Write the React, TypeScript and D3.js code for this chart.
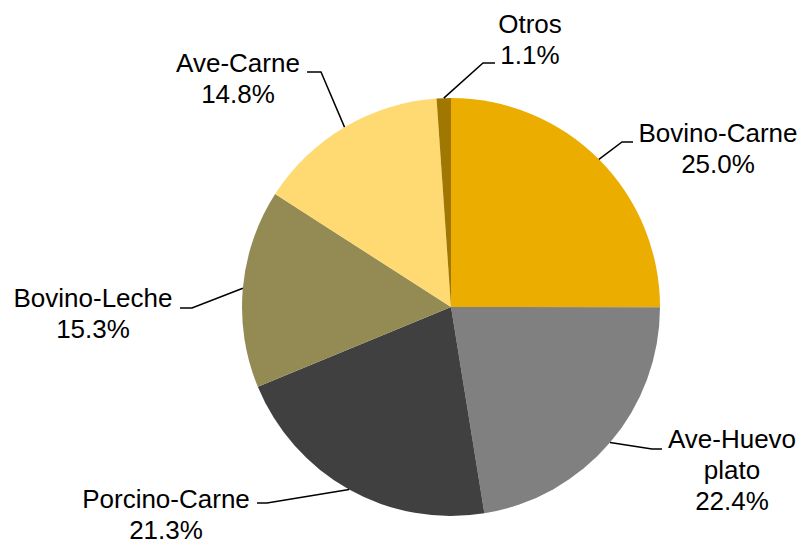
import { useEffect, useRef } from "react";
import * as d3 from "d3";

const categories = ["Bovino-Carne", "Ave-Huevo plato", "Porcino-Carne", "Bovino-Leche", "Ave-Carne", "Otros"];
const shares = [25.0, 22.4, 21.3, 15.3, 14.8, 1.1];
const labelLines = [["Bovino-Carne"], ["Ave-Huevo", "plato"], ["Porcino-Carne"], ["Bovino-Leche"], ["Ave-Carne"], ["Otros"]];
const colors = ["#EBAD00", "#808080", "#404040", "#948A54", "#FFD971", "#A07700"];

// label placement: elbow, line end, text center and first baseline
const labelLayout = [
  { elbow: [622, 142], end: [633, 142], tx: 718, ty: 142 },
  { elbow: [652, 449], end: [662, 449], tx: 732, ty: 448 },
  { elbow: [267, 503], end: [257, 503], tx: 166, ty: 508 },
  { elbow: [192, 308], end: [180, 308], tx: 93, ty: 307 },
  { elbow: [321, 72], end: [307, 72], tx: 238, ty: 72 },
  { elbow: [483, 63], end: [495, 63], tx: 530, ty: 33 },
];

type Slice = { name: string; value: number; idx: number };

export default function App() {
  const svgRef = useRef<SVGSVGElement>(null);

  useEffect(() => {
    if (!svgRef.current) return;
    const width = 800;
    const height = 541;
    const cx = 451;
    const cy = 307;
    const r = 209;

    const svg = d3.select(svgRef.current).attr("width", width).attr("height", height);
    svg.selectAll("*").remove();

    const data: Slice[] = categories.map((name, i) => ({ name, value: shares[i], idx: i }));
    const pie = d3.pie<Slice>().sort(null).value((d) => d.value).startAngle(0).endAngle(2 * Math.PI);
    const arcs = pie(data);
    const arc = d3.arc<d3.PieArcDatum<Slice>>().innerRadius(0).outerRadius(r);
    const edge = d3.arc<d3.PieArcDatum<Slice>>().innerRadius(r).outerRadius(r);

    const g = svg.append("g").attr("transform", `translate(${cx},${cy})`);

    g.selectAll("path.slice")
      .data(arcs)
      .join("path")
      .attr("class", "slice")
      .attr("d", arc)
      .attr("fill", (d) => colors[d.data.idx]);

    const lg = svg.append("g");
    arcs.forEach((d) => {
      const lay = labelLayout[d.data.idx];
      const [ex, ey] = edge.centroid(d);
      lg.append("polyline")
        .attr("points", `${cx + ex},${cy + ey} ${lay.elbow[0]},${lay.elbow[1]} ${lay.end[0]},${lay.end[1]}`)
        .attr("fill", "none")
        .attr("stroke", "#000")
        .attr("stroke-width", 1.5);

      const lines = [...labelLines[d.data.idx], `${d.data.value.toFixed(1)}%`];
      const t = lg.append("text")
        .attr("text-anchor", "middle")
        .attr("font-family", "'Liberation Sans', Arial, sans-serif")
        .attr("font-size", 26)
        .attr("fill", "#000");
      lines.forEach((s, i) => {
        t.append("tspan").attr("x", lay.tx).attr("y", lay.ty + i * 31).text(s);
      });
    });
  }, []);

  return (
    <div style={{ position: "absolute", left: 0, top: 0, width: 800, height: 541, background: "#fff" }}>
      <svg ref={svgRef} style={{ display: "block" }} />
    </div>
  );
}
